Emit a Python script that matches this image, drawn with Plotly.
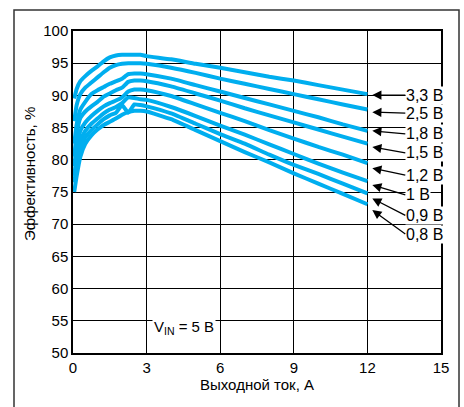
import plotly.graph_objects as go

# Output current, A (common grid)
current = [0.05, 0.15, 0.3, 0.5, 0.75, 1.0, 1.25, 1.5, 1.75, 2.0, 2.25, 2.5, 2.75,
           3.0, 4, 5, 6, 7, 8, 9, 10, 11, 12]

# Efficiency, % for each output voltage
eff_3v3 = [89.5, 91.0, 92.2, 93.0, 93.8, 94.5, 95.3, 95.9, 96.2, 96.3, 96.3, 96.3, 96.3,
           96.1, 95.6, 94.9, 94.3, 93.6, 92.9, 92.3, 91.6, 90.9, 90.2]
eff_2v5 = [86.0, 88.5, 90.2, 91.2, 92.0, 92.8, 93.6, 94.3, 94.7, 94.9, 95.0, 95.0, 95.0,
           94.9, 94.3, 93.5, 92.6, 91.8, 91.0, 90.2, 89.4, 88.6, 87.8]
eff_1v8 = [82.5, 85.5, 87.8, 89.0, 90.2, 90.8, 91.3, 91.8, 92.2, 92.6, 93.3, 93.4, 93.4,
           93.3, 92.6, 91.6, 90.6, 89.6, 88.6, 87.6, 86.6, 85.5, 84.5]
eff_1v5 = [80.5, 84.0, 86.5, 87.5, 88.3, 89.0, 89.8, 90.3, 90.8, 91.2, 92.1, 92.3, 92.3,
           92.2, 91.4, 90.3, 89.2, 88.0, 86.9, 85.8, 84.7, 83.6, 82.5]
eff_1v2 = [79.0, 82.0, 84.5, 85.8, 86.8, 87.6, 88.3, 88.8, 89.2, 89.7, 90.6, 90.9, 90.9,
           90.8, 89.9, 88.6, 87.3, 86.0, 84.6, 83.3, 82.0, 80.8, 79.5]
eff_1v0 = [77.5, 80.5, 83.0, 84.5, 85.6, 86.4, 87.2, 87.8, 88.2, 88.8, 89.7, 89.6, 89.4,
           89.3, 88.2, 86.8, 85.3, 83.9, 82.4, 80.9, 79.4, 78.0, 76.7]
eff_0v9 = [76.5, 79.0, 81.8, 83.5, 84.6, 85.5, 86.3, 86.9, 87.3, 88.5, 87.3, 88.6, 88.5,
           88.3, 87.2, 85.6, 84.0, 82.5, 80.8, 79.2, 77.8, 76.3, 74.8]
eff_0v8 = [75.0, 77.5, 80.5, 82.5, 83.8, 84.7, 85.4, 85.9, 86.4, 87.0, 87.4, 87.6, 87.6,
           87.5, 86.3, 84.6, 82.9, 81.2, 79.6, 77.9, 76.3, 74.7, 73.1]

series = [eff_3v3, eff_2v5, eff_1v8, eff_1v5, eff_1v2, eff_1v0, eff_0v9, eff_0v8]

# Labels and where their arrows point
labels = ["3,3 В", "2,5 В", "1,8 В", "1,5 В", "1,2 В", "1 В", "0,9 В", "0,8 В"]
arrow_x = [12.2] * 8
arrow_y = [90.05, 87.4, 84.5, 82.0, 78.7, 76.1, 74.0, 72.2]
label_dy = [0, 1, 3, 6, 7, 10, 17, 24]

x_ticks = [0, 3, 6, 9, 12, 15]
y_ticks = [50, 55, 60, 65, 70, 75, 80, 85, 90, 95, 100]

color = "#00AEEF"
font = "Liberation Sans, Arial, sans-serif"

fig = go.Figure()
for name, ys in zip(labels, series):
    fig.add_trace(go.Scatter(x=current, y=ys, mode="lines", name=name,
                             line=dict(color=color, width=4, shape="spline", smoothing=0.4),
                             showlegend=False, hoverinfo="skip"))

for lab, ax_, ay_, dy in zip(labels, arrow_x, arrow_y, label_dy):
    fig.add_annotation(x=ax_, y=ay_, text=lab, showarrow=True,
                       ax=33, ay=dy, xanchor="left", yanchor="middle",
                       arrowhead=2, arrowsize=1.4, arrowwidth=1.3, arrowcolor="black",
                       font=dict(family=font, size=16, color="black"),
                       bgcolor="white", borderpad=0)

fig.add_annotation(x=4.54, y=54.0, text="V<sub>IN</sub> = 5 В", showarrow=False,
                   font=dict(family=font, size=15, color="black"), bgcolor="white")

fig.add_annotation(xref="paper", yref="paper", x=(29 - 73) / 368, y=(353 - 174) / 322,
                   xanchor="center", yanchor="middle",
                   text="Эффективность, %", textangle=-90, showarrow=False,
                   font=dict(family=font, size=15, color="black"))
fig.add_annotation(xref="paper", yref="paper", x=0.5, y=(353 - 384) / 322,
                   xanchor="center", yanchor="middle",
                   text="Выходной ток, А", showarrow=False,
                   font=dict(family=font, size=15, color="black"))

# outer frame
fig.add_shape(type="rect", xref="paper", yref="paper",
              x0=(14 - 73) / 368, x1=(459 - 73) / 368,
              y0=-0.3, y1=(353 - 10) / 322,
              line=dict(color="#333333", width=1.5))

fig.update_xaxes(range=[0, 15], tickvals=x_ticks, showgrid=True, gridcolor="black",
                 gridwidth=1.3, showline=True, linecolor="black", linewidth=1.5,
                 mirror=True, zeroline=False, ticks="",
                 tickfont=dict(family=font, size=15, color="black"))
fig.update_yaxes(range=[50, 100], tickvals=y_ticks, showgrid=True, gridcolor="black",
                 gridwidth=1.3, showline=True, linecolor="black", linewidth=1.5,
                 mirror=True, zeroline=False, ticks="",
                 tickfont=dict(family=font, size=15, color="black"))

fig.update_layout(width=464, height=407, margin=dict(l=73, r=23, t=31, b=54),
                  paper_bgcolor="white", plot_bgcolor="white")

fig.write_html("out.html")
